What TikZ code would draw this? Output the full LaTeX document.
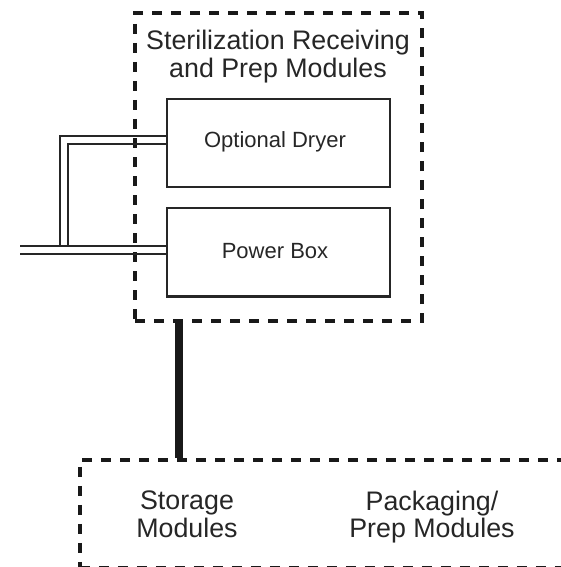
\documentclass[tikz,border=0pt]{standalone}
\usepackage{fontspec}
\setmainfont{Liberation Sans}
\begin{document}
\begin{tikzpicture}[x=1pt,y=-1pt,
  dashbox/.style={draw=black!90, line width=3.5pt, dash pattern=on 10pt off 9pt, inner sep=0pt},
  unitbox/.style={draw=black!85, line width=2.4pt, inner sep=0pt, minimum width=223pt},
  pipe/.style={draw=black!85, line width=2pt},
  bigtext/.style={font=\fontsize{26.8}{27.5}\selectfont, align=center, inner sep=0pt, text=black!85},
  smalltext/.style={font=\fontsize{22}{24}\selectfont, inner sep=0pt, text=black!85}]
\useasboundingbox (0,0) rectangle (561,567);
\clip (0,0) rectangle (561,567);
% top dashed module
\node[dashbox, minimum width=287pt, minimum height=308pt] (top) at (278.5,167) {};
\node[bigtext] (ttl) at (278,56.5) {Sterilization Receiving\\and Prep Modules};
% units
\node[unitbox, minimum height=87.5pt] (dryer) at (278.5,143) {};
\node[smalltext] (dryertxt) at (275,142.3) {Optional Dryer};
\node[unitbox, minimum height=88.5pt] (power) at (278.5,252.3) {};
\node[smalltext] (powertxt) at (275,251) {Power Box};
% pipes
\coordinate (inA) at (20,246);
\coordinate (inB) at (20,253.5);
\coordinate (j1) at (60,246);
\coordinate (j2) at (67.5,246);
\draw[pipe] (inA) -- (inA -| power.west);
\draw[pipe] (inB) -- (inB -| power.west);
\draw[pipe] (j1) |- ([yshift=7pt]dryer.west);
\draw[pipe] (j2) |- ([yshift=-0.5pt]dryer.west);
% bottom dashed module
\node[dashbox, anchor=north west, minimum width=560pt, minimum height=108pt] (bot) at (78,458) {};
\node[bigtext] (storage) at (187,514.3) {Storage\\Modules};
\node[bigtext] (pack) at (432,517) {Packaging/\\Prep Modules};
% link
\coordinate (lk) at (179,0);
\draw[line width=8pt, black!90] (top.south -| lk) -- (bot.north -| lk);
\end{tikzpicture}
\end{document}
